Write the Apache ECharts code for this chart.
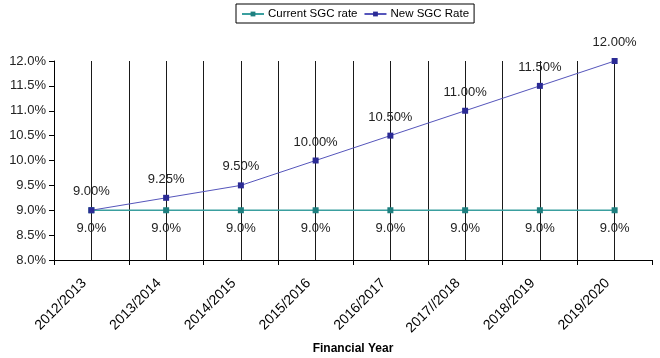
<!DOCTYPE html>
<html>
<head>
<meta charset="utf-8">
<script src="https://cdn.jsdelivr.net/npm/echarts@6/dist/echarts.min.js"></script>
<style>html,body{margin:0;padding:0;background:#fff;}#c{width:660px;height:358px;}</style>
</head>
<body>
<div id="c"></div>
<script>
var categories = ['2012/2013','2013/2014','2014/2015','2015/2016','2016/2017','2017//2018','2018/2019','2019/2020'];
var currentRate = [9.0, 9.0, 9.0, 9.0, 9.0, 9.0, 9.0, 9.0];
var newRate = [9.0, 9.25, 9.5, 10.0, 10.5, 11.0, 11.5, 12.0];
var seriesNames = ['Current SGC rate', 'New SGC Rate'];

var FONT = 'Liberation Sans, Arial, sans-serif';
var chart = echarts.init(document.getElementById('c'), null, {renderer: 'canvas'});
chart.setOption({
  animation: false,
  backgroundColor: '#fff',
  textStyle: {fontFamily: FONT},
  legend: {
    top: 4, left: 236,
    data: seriesNames,
    itemWidth: 22, itemHeight: 6, itemGap: 6,
    padding: [4, 5, 3, 5],
    borderColor: '#000', borderWidth: 1,
    textStyle: {fontFamily: FONT, fontSize: 11.5, color: '#000', padding: [0, 0, 0, -1]}
  },
  grid: {left: 54, right: 8, top: 61, bottom: 98, containLabel: false, outerBoundsMode: 'none'},
  xAxis: [{
    type: 'category', data: categories, boundaryGap: true,
    name: 'Financial Year', nameLocation: 'middle', nameGap: 82,
    nameTextStyle: {fontFamily: FONT, fontSize: 12, fontWeight: 'bold', color: '#000'},
    axisLine: {lineStyle: {color: '#000', width: 1}},
    axisTick: {show: true, length: 5, lineStyle: {color: '#000'}},
    axisLabel: {rotate: 45, fontSize: 14, color: '#000', fontFamily: FONT, margin: 14, interval: 0, padding: [0, 10, 0, 0]},
    splitLine: {show: false}
  }, {
    type: 'value', min: 0, max: 16, interval: 1, show: true, position: 'top',
    axisLine: {show: false}, axisTick: {show: false}, axisLabel: {show: false},
    splitLine: {show: true, showMinLine: false, showMaxLine: false, lineStyle: {color: '#1a1a1a', width: 1}}
  }],
  yAxis: {
    type: 'value', min: 8, max: 12, interval: 0.5,
    axisLine: {show: true, lineStyle: {color: '#000'}},
    axisTick: {show: true, length: 5, lineStyle: {color: '#000'}},
    axisLabel: {formatter: function(v){return v.toFixed(1) + '%';}, fontSize: 13, color: '#222', fontFamily: FONT, margin: 8},
    splitLine: {show: false}
  },
  series: [{
    name: seriesNames[0], type: 'line', data: currentRate, xAxisIndex: 0,
    symbol: 'rect', symbolSize: 6,
    lineStyle: {color: '#3a9f9f', width: 1.5},
    itemStyle: {color: '#1e7f7f'},
    label: {show: true, position: 'bottom', distance: 9, fontSize: 13, color: '#222', fontFamily: FONT,
      formatter: function(p){return p.value.toFixed(1) + '%';}},
    z: 3
  }, {
    name: seriesNames[1], type: 'line', data: newRate, xAxisIndex: 0,
    symbol: 'rect', symbolSize: 6,
    lineStyle: {color: '#5555bb', width: 1},
    itemStyle: {color: '#2b2b95'},
    label: {show: true, position: 'top', distance: 9, fontSize: 13, color: '#222', fontFamily: FONT,
      formatter: function(p){return p.value.toFixed(2) + '%';}},
    z: 4
  }]
});
</script>
</body>
</html>
